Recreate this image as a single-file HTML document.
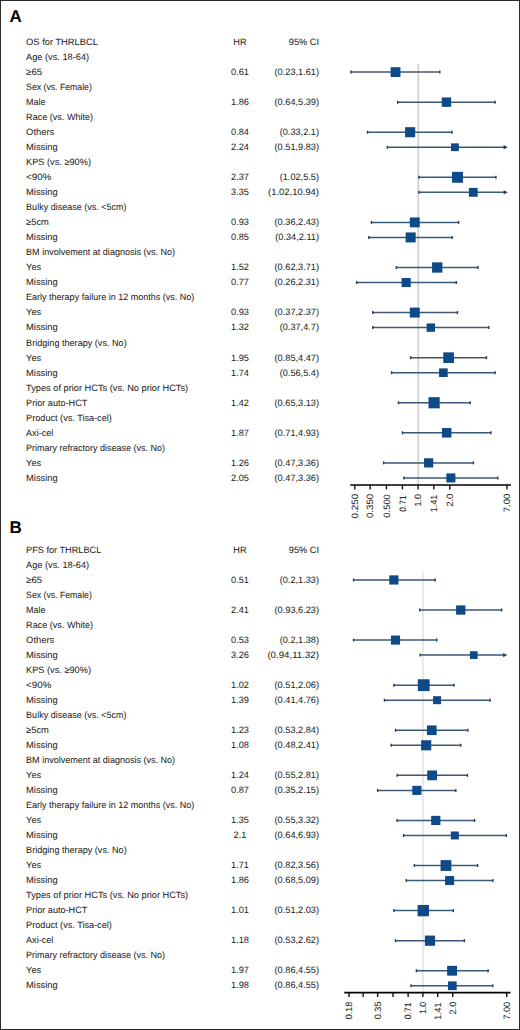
<!DOCTYPE html>
<html><head><meta charset="utf-8"><style>
html,body{margin:0;padding:0;background:#fff;}
body{width:520px;height:1030px;overflow:hidden;position:relative;}
svg{position:absolute;left:0;top:0;}
text{text-rendering:geometricPrecision;font-family:"Liberation Sans",sans-serif;font-size:9.2px;fill:#222;stroke:#222;stroke-width:0.04px;}
text.L{font-weight:bold;font-size:17px;fill:#000;}
</style></head><body>
<svg width="520" height="1030" viewBox="0 0 520 1030">
<rect x="0.5" y="0.5" width="519" height="1029" fill="#fff" stroke="#2a2a2a" stroke-width="1"/>
<text x="9.6" y="21.7" class="L">A</text>
<line x1="418.20" y1="64.0" x2="418.20" y2="485.0" stroke="#c4c4c4" stroke-width="1.3"/>
<text x="26.1" y="45.10" textLength="71.76" lengthAdjust="spacingAndGlyphs">OS for THRLBCL</text>
<text x="240" y="45.10" text-anchor="middle">HR</text>
<text x="319" y="45.10" text-anchor="end">95% CI</text>
<text x="26.1" y="60.12" textLength="62.99" lengthAdjust="spacingAndGlyphs">Age (vs. 18-64)</text>
<text x="26.1" y="75.14" textLength="16.06" lengthAdjust="spacingAndGlyphs">≥65</text>
<text x="240" y="75.14" text-anchor="middle">0.61</text>
<text x="319" y="75.14" text-anchor="end">(0.23,1.61)</text>
<line x1="350.99" y1="72.10" x2="439.85" y2="72.10" stroke="#3a5878" stroke-width="1.5"/>
<line x1="350.99" y1="70.60" x2="350.99" y2="73.60" stroke="#263c52" stroke-width="1.4"/>
<line x1="439.85" y1="70.60" x2="439.85" y2="73.60" stroke="#263c52" stroke-width="1.4"/>
<rect x="390.63" y="67.20" width="9.80" height="9.80" fill="#0d4a87"/>
<text x="26.1" y="90.16" textLength="65.76" lengthAdjust="spacingAndGlyphs">Sex (vs. Female)</text>
<text x="26.1" y="105.18" textLength="19.43" lengthAdjust="spacingAndGlyphs">Male</text>
<text x="240" y="105.18" text-anchor="middle">1.86</text>
<text x="319" y="105.18" text-anchor="end">(0.64,5.39)</text>
<line x1="397.72" y1="102.16" x2="495.02" y2="102.16" stroke="#3a5878" stroke-width="1.5"/>
<line x1="397.72" y1="100.66" x2="397.72" y2="103.66" stroke="#263c52" stroke-width="1.4"/>
<line x1="495.02" y1="100.66" x2="495.02" y2="103.66" stroke="#263c52" stroke-width="1.4"/>
<rect x="441.74" y="97.46" width="9.40" height="9.40" fill="#0d4a87"/>
<text x="26.1" y="120.20" textLength="66.97" lengthAdjust="spacingAndGlyphs">Race (vs. White)</text>
<text x="26.1" y="135.22" textLength="28.16" lengthAdjust="spacingAndGlyphs">Others</text>
<text x="240" y="135.22" text-anchor="middle">0.84</text>
<text x="319" y="135.22" text-anchor="end">(0.33,2.1)</text>
<line x1="367.48" y1="132.22" x2="451.98" y2="132.22" stroke="#3a5878" stroke-width="1.5"/>
<line x1="367.48" y1="130.72" x2="367.48" y2="133.72" stroke="#263c52" stroke-width="1.4"/>
<line x1="451.98" y1="130.72" x2="451.98" y2="133.72" stroke="#263c52" stroke-width="1.4"/>
<rect x="405.09" y="127.17" width="10.10" height="10.10" fill="#0d4a87"/>
<text x="26.1" y="150.24" textLength="31.59" lengthAdjust="spacingAndGlyphs">Missing</text>
<text x="240" y="150.24" text-anchor="middle">2.24</text>
<text x="319" y="150.24" text-anchor="end">(0.51,9.83)</text>
<line x1="387.35" y1="147.25" x2="504.30" y2="147.25" stroke="#3a5878" stroke-width="1.5"/>
<line x1="387.35" y1="145.75" x2="387.35" y2="148.75" stroke="#263c52" stroke-width="1.4"/>
<path d="M503.60,145.05 L507.80,147.25 L503.60,149.45 Z" fill="#263c52"/>
<rect x="451.02" y="143.35" width="7.80" height="7.80" fill="#0d4a87"/>
<text x="26.1" y="165.26" textLength="64.86" lengthAdjust="spacingAndGlyphs">KPS (vs. ≥90%)</text>
<text x="26.1" y="180.28" textLength="25.22" lengthAdjust="spacingAndGlyphs">&lt;90%</text>
<text x="240" y="180.28" text-anchor="middle">2.37</text>
<text x="319" y="180.28" text-anchor="end">(1.02,5.5)</text>
<line x1="419.00" y1="177.31" x2="495.94" y2="177.31" stroke="#3a5878" stroke-width="1.5"/>
<line x1="419.00" y1="175.81" x2="419.00" y2="178.81" stroke="#263c52" stroke-width="1.4"/>
<line x1="495.94" y1="175.81" x2="495.94" y2="178.81" stroke="#263c52" stroke-width="1.4"/>
<rect x="452.05" y="171.86" width="10.90" height="10.90" fill="#0d4a87"/>
<text x="26.1" y="195.30" textLength="31.59" lengthAdjust="spacingAndGlyphs">Missing</text>
<text x="240" y="195.30" text-anchor="middle">3.35</text>
<text x="319" y="195.30" text-anchor="end" textLength="50.9" lengthAdjust="spacingAndGlyphs">(1.02,10.94)</text>
<line x1="419.00" y1="192.34" x2="504.30" y2="192.34" stroke="#3a5878" stroke-width="1.5"/>
<line x1="419.00" y1="190.84" x2="419.00" y2="193.84" stroke="#263c52" stroke-width="1.4"/>
<path d="M503.60,190.14 L507.80,192.34 L503.60,194.54 Z" fill="#263c52"/>
<rect x="468.90" y="187.94" width="8.80" height="8.80" fill="#0d4a87"/>
<text x="26.1" y="210.32" textLength="100.51" lengthAdjust="spacingAndGlyphs">Bulky disease (vs. &lt;5cm)</text>
<text x="26.1" y="225.34" textLength="22.84" lengthAdjust="spacingAndGlyphs">≥5cm</text>
<text x="240" y="225.34" text-anchor="middle">0.93</text>
<text x="319" y="225.34" text-anchor="end">(0.36,2.43)</text>
<line x1="371.45" y1="222.40" x2="458.64" y2="222.40" stroke="#3a5878" stroke-width="1.5"/>
<line x1="371.45" y1="220.90" x2="371.45" y2="223.90" stroke="#263c52" stroke-width="1.4"/>
<line x1="458.64" y1="220.90" x2="458.64" y2="223.90" stroke="#263c52" stroke-width="1.4"/>
<rect x="409.84" y="217.45" width="9.90" height="9.90" fill="#0d4a87"/>
<text x="26.1" y="240.36" textLength="31.59" lengthAdjust="spacingAndGlyphs">Missing</text>
<text x="240" y="240.36" text-anchor="middle">0.85</text>
<text x="319" y="240.36" text-anchor="end">(0.34,2.11)</text>
<line x1="368.84" y1="237.43" x2="452.19" y2="237.43" stroke="#3a5878" stroke-width="1.5"/>
<line x1="368.84" y1="235.93" x2="368.84" y2="238.93" stroke="#263c52" stroke-width="1.4"/>
<line x1="452.19" y1="235.93" x2="452.19" y2="238.93" stroke="#263c52" stroke-width="1.4"/>
<rect x="405.68" y="232.43" width="10.00" height="10.00" fill="#0d4a87"/>
<text x="26.1" y="255.38" textLength="149.00" lengthAdjust="spacingAndGlyphs">BM involvement at diagnosis (vs. No)</text>
<text x="26.1" y="270.40" textLength="15.05" lengthAdjust="spacingAndGlyphs">Yes</text>
<text x="240" y="270.40" text-anchor="middle">1.52</text>
<text x="319" y="270.40" text-anchor="end">(0.62,3.71)</text>
<line x1="396.27" y1="267.49" x2="477.96" y2="267.49" stroke="#3a5878" stroke-width="1.5"/>
<line x1="396.27" y1="265.99" x2="396.27" y2="268.99" stroke="#263c52" stroke-width="1.4"/>
<line x1="477.96" y1="265.99" x2="477.96" y2="268.99" stroke="#263c52" stroke-width="1.4"/>
<rect x="432.07" y="262.34" width="10.30" height="10.30" fill="#0d4a87"/>
<text x="26.1" y="285.42" textLength="31.59" lengthAdjust="spacingAndGlyphs">Missing</text>
<text x="240" y="285.42" text-anchor="middle">0.77</text>
<text x="319" y="285.42" text-anchor="end">(0.26,2.31)</text>
<line x1="356.59" y1="282.52" x2="456.33" y2="282.52" stroke="#3a5878" stroke-width="1.5"/>
<line x1="356.59" y1="281.02" x2="356.59" y2="284.02" stroke="#263c52" stroke-width="1.4"/>
<line x1="456.33" y1="281.02" x2="456.33" y2="284.02" stroke="#263c52" stroke-width="1.4"/>
<rect x="401.62" y="277.97" width="9.10" height="9.10" fill="#0d4a87"/>
<text x="26.1" y="300.44" textLength="168.12" lengthAdjust="spacingAndGlyphs">Early therapy failure in 12 months (vs. No)</text>
<text x="26.1" y="315.46" textLength="15.05" lengthAdjust="spacingAndGlyphs">Yes</text>
<text x="240" y="315.46" text-anchor="middle">0.93</text>
<text x="319" y="315.46" text-anchor="end">(0.37,2.37)</text>
<line x1="372.70" y1="312.58" x2="457.50" y2="312.58" stroke="#3a5878" stroke-width="1.5"/>
<line x1="372.70" y1="311.08" x2="372.70" y2="314.08" stroke="#263c52" stroke-width="1.4"/>
<line x1="457.50" y1="311.08" x2="457.50" y2="314.08" stroke="#263c52" stroke-width="1.4"/>
<rect x="409.81" y="307.60" width="9.95" height="9.95" fill="#0d4a87"/>
<text x="26.1" y="330.48" textLength="31.59" lengthAdjust="spacingAndGlyphs">Missing</text>
<text x="240" y="330.48" text-anchor="middle">1.32</text>
<text x="319" y="330.48" text-anchor="end">(0.37,4.7)</text>
<line x1="372.70" y1="327.61" x2="488.76" y2="327.61" stroke="#3a5878" stroke-width="1.5"/>
<line x1="372.70" y1="326.11" x2="372.70" y2="329.11" stroke="#263c52" stroke-width="1.4"/>
<line x1="488.76" y1="326.11" x2="488.76" y2="329.11" stroke="#263c52" stroke-width="1.4"/>
<rect x="426.58" y="323.41" width="8.40" height="8.40" fill="#0d4a87"/>
<text x="26.1" y="345.50" textLength="100.57" lengthAdjust="spacingAndGlyphs">Bridging therapy (vs. No)</text>
<text x="26.1" y="360.52" textLength="15.05" lengthAdjust="spacingAndGlyphs">Yes</text>
<text x="240" y="360.52" text-anchor="middle">1.95</text>
<text x="319" y="360.52" text-anchor="end">(0.85,4.47)</text>
<line x1="410.68" y1="357.67" x2="486.47" y2="357.67" stroke="#3a5878" stroke-width="1.5"/>
<line x1="410.68" y1="356.17" x2="410.68" y2="359.17" stroke="#263c52" stroke-width="1.4"/>
<line x1="486.47" y1="356.17" x2="486.47" y2="359.17" stroke="#263c52" stroke-width="1.4"/>
<rect x="443.27" y="352.35" width="10.65" height="10.65" fill="#0d4a87"/>
<text x="26.1" y="375.54" textLength="31.59" lengthAdjust="spacingAndGlyphs">Missing</text>
<text x="240" y="375.54" text-anchor="middle">1.74</text>
<text x="319" y="375.54" text-anchor="end">(0.56,5.4)</text>
<line x1="391.62" y1="372.70" x2="495.10" y2="372.70" stroke="#3a5878" stroke-width="1.5"/>
<line x1="391.62" y1="371.20" x2="391.62" y2="374.20" stroke="#263c52" stroke-width="1.4"/>
<line x1="495.10" y1="371.20" x2="495.10" y2="374.20" stroke="#263c52" stroke-width="1.4"/>
<rect x="439.07" y="368.38" width="8.65" height="8.65" fill="#0d4a87"/>
<text x="26.1" y="390.56" textLength="162.08" lengthAdjust="spacingAndGlyphs">Types of prior HCTs (vs. No prior HCTs)</text>
<text x="26.1" y="405.58" textLength="61.22" lengthAdjust="spacingAndGlyphs">Prior auto-HCT</text>
<text x="240" y="405.58" text-anchor="middle">1.42</text>
<text x="319" y="405.58" text-anchor="end">(0.65,3.13)</text>
<line x1="398.43" y1="402.76" x2="470.20" y2="402.76" stroke="#3a5878" stroke-width="1.5"/>
<line x1="398.43" y1="401.26" x2="398.43" y2="404.26" stroke="#263c52" stroke-width="1.4"/>
<line x1="470.20" y1="401.26" x2="470.20" y2="404.26" stroke="#263c52" stroke-width="1.4"/>
<rect x="428.51" y="397.16" width="11.20" height="11.20" fill="#0d4a87"/>
<text x="26.1" y="420.60" textLength="85.73" lengthAdjust="spacingAndGlyphs">Product (vs. Tisa-cel)</text>
<text x="26.1" y="435.62" textLength="27.13" lengthAdjust="spacingAndGlyphs">Axi-cel</text>
<text x="240" y="435.62" text-anchor="middle">1.87</text>
<text x="319" y="435.62" text-anchor="end">(0.71,4.93)</text>
<line x1="402.46" y1="432.82" x2="490.95" y2="432.82" stroke="#3a5878" stroke-width="1.5"/>
<line x1="402.46" y1="431.32" x2="402.46" y2="434.32" stroke="#263c52" stroke-width="1.4"/>
<line x1="490.95" y1="431.32" x2="490.95" y2="434.32" stroke="#263c52" stroke-width="1.4"/>
<rect x="441.93" y="428.07" width="9.50" height="9.50" fill="#0d4a87"/>
<text x="26.1" y="450.64" textLength="139.00" lengthAdjust="spacingAndGlyphs">Primary refractory disease (vs. No)</text>
<text x="26.1" y="465.66" textLength="15.05" lengthAdjust="spacingAndGlyphs">Yes</text>
<text x="240" y="465.66" text-anchor="middle">1.26</text>
<text x="319" y="465.66" text-anchor="end">(0.47,3.36)</text>
<line x1="383.62" y1="462.88" x2="473.44" y2="462.88" stroke="#3a5878" stroke-width="1.5"/>
<line x1="383.62" y1="461.38" x2="383.62" y2="464.38" stroke="#263c52" stroke-width="1.4"/>
<line x1="473.44" y1="461.38" x2="473.44" y2="464.38" stroke="#263c52" stroke-width="1.4"/>
<rect x="424.05" y="458.28" width="9.20" height="9.20" fill="#0d4a87"/>
<text x="26.1" y="480.68" textLength="31.59" lengthAdjust="spacingAndGlyphs">Missing</text>
<text x="240" y="480.68" text-anchor="middle">2.05</text>
<text x="319" y="480.68" text-anchor="end">(0.47,3.36)</text>
<line x1="403.85" y1="477.91" x2="497.81" y2="477.91" stroke="#3a5878" stroke-width="1.5"/>
<line x1="403.85" y1="476.41" x2="403.85" y2="479.41" stroke="#263c52" stroke-width="1.4"/>
<line x1="497.81" y1="476.41" x2="497.81" y2="479.41" stroke="#263c52" stroke-width="1.4"/>
<rect x="446.35" y="473.39" width="9.05" height="9.05" fill="#0d4a87"/>
<line x1="350.2" y1="485.0" x2="511" y2="485.0" stroke="#000" stroke-width="1.7"/>
<line x1="354.80" y1="485.0" x2="354.80" y2="489.4" stroke="#111" stroke-width="1.4"/>
<line x1="370.16" y1="485.0" x2="370.16" y2="489.4" stroke="#111" stroke-width="1.4"/>
<line x1="386.45" y1="485.0" x2="386.45" y2="489.4" stroke="#111" stroke-width="1.4"/>
<line x1="402.46" y1="485.0" x2="402.46" y2="489.4" stroke="#111" stroke-width="1.4"/>
<line x1="418.10" y1="485.0" x2="418.10" y2="489.4" stroke="#111" stroke-width="1.4"/>
<line x1="433.79" y1="485.0" x2="433.79" y2="489.4" stroke="#111" stroke-width="1.4"/>
<line x1="449.75" y1="485.0" x2="449.75" y2="489.4" stroke="#111" stroke-width="1.4"/>
<line x1="506.95" y1="485.0" x2="506.95" y2="489.4" stroke="#111" stroke-width="1.4"/>
<text x="358.10" y="518.58" textLength="24.80" lengthAdjust="spacingAndGlyphs" transform="rotate(-90 358.10 518.58)">0.250</text>
<text x="373.46" y="518.08" textLength="24.25" lengthAdjust="spacingAndGlyphs" transform="rotate(-90 373.46 518.08)">0.350</text>
<text x="389.75" y="517.63" textLength="23.43" lengthAdjust="spacingAndGlyphs" transform="rotate(-90 389.75 517.63)">0.500</text>
<text x="405.76" y="511.83" textLength="16.48" lengthAdjust="spacingAndGlyphs" transform="rotate(-90 405.76 511.83)">0.71</text>
<text x="421.40" y="506.45" textLength="12.41" lengthAdjust="spacingAndGlyphs" transform="rotate(-90 421.40 506.45)">1.0</text>
<text x="437.09" y="512.36" textLength="17.75" lengthAdjust="spacingAndGlyphs" transform="rotate(-90 437.09 512.36)">1.41</text>
<text x="453.05" y="506.83" textLength="13.27" lengthAdjust="spacingAndGlyphs" transform="rotate(-90 453.05 506.83)">2.0</text>
<text x="510.25" y="512.30" textLength="18.65" lengthAdjust="spacingAndGlyphs" transform="rotate(-90 510.25 512.30)">7.00</text>
<text x="9.6" y="532.7" class="L">B</text>
<line x1="422.90" y1="571.5" x2="422.90" y2="992.6" stroke="#dadada" stroke-width="1.2"/>
<text x="26.1" y="552.80" textLength="75.16" lengthAdjust="spacingAndGlyphs">PFS for THRLBCL</text>
<text x="240" y="552.80" text-anchor="middle">HR</text>
<text x="319" y="552.80" text-anchor="end">95% CI</text>
<text x="26.1" y="567.82" textLength="62.99" lengthAdjust="spacingAndGlyphs">Age (vs. 18-64)</text>
<text x="26.1" y="582.84" textLength="16.06" lengthAdjust="spacingAndGlyphs">≥65</text>
<text x="240" y="582.84" text-anchor="middle">0.51</text>
<text x="319" y="582.84" text-anchor="end">(0.2,1.33)</text>
<line x1="353.54" y1="579.96" x2="435.16" y2="579.96" stroke="#3a5878" stroke-width="1.5"/>
<line x1="353.54" y1="578.46" x2="353.54" y2="581.46" stroke="#263c52" stroke-width="1.4"/>
<line x1="435.16" y1="578.46" x2="435.16" y2="581.46" stroke="#263c52" stroke-width="1.4"/>
<rect x="389.26" y="575.36" width="9.20" height="9.20" fill="#0d4a87"/>
<text x="26.1" y="597.86" textLength="65.76" lengthAdjust="spacingAndGlyphs">Sex (vs. Female)</text>
<text x="26.1" y="612.88" textLength="19.43" lengthAdjust="spacingAndGlyphs">Male</text>
<text x="240" y="612.88" text-anchor="middle">2.41</text>
<text x="319" y="612.88" text-anchor="end">(0.93,6.23)</text>
<line x1="419.74" y1="610.02" x2="501.68" y2="610.02" stroke="#3a5878" stroke-width="1.5"/>
<line x1="419.74" y1="608.52" x2="419.74" y2="611.52" stroke="#263c52" stroke-width="1.4"/>
<line x1="501.68" y1="608.52" x2="501.68" y2="611.52" stroke="#263c52" stroke-width="1.4"/>
<rect x="456.11" y="605.37" width="9.30" height="9.30" fill="#0d4a87"/>
<text x="26.1" y="627.90" textLength="66.97" lengthAdjust="spacingAndGlyphs">Race (vs. White)</text>
<text x="26.1" y="642.92" textLength="28.16" lengthAdjust="spacingAndGlyphs">Others</text>
<text x="240" y="642.92" text-anchor="middle">0.53</text>
<text x="319" y="642.92" text-anchor="end">(0.2,1.38)</text>
<line x1="353.54" y1="640.08" x2="436.74" y2="640.08" stroke="#3a5878" stroke-width="1.5"/>
<line x1="353.54" y1="638.58" x2="353.54" y2="641.58" stroke="#263c52" stroke-width="1.4"/>
<line x1="436.74" y1="638.58" x2="436.74" y2="641.58" stroke="#263c52" stroke-width="1.4"/>
<rect x="390.97" y="635.53" width="9.10" height="9.10" fill="#0d4a87"/>
<text x="26.1" y="657.94" textLength="31.59" lengthAdjust="spacingAndGlyphs">Missing</text>
<text x="240" y="657.94" text-anchor="middle">3.26</text>
<text x="319" y="657.94" text-anchor="end" textLength="51.6" lengthAdjust="spacingAndGlyphs">(0.94,11.32)</text>
<line x1="420.20" y1="655.11" x2="503.80" y2="655.11" stroke="#3a5878" stroke-width="1.5"/>
<line x1="420.20" y1="653.61" x2="420.20" y2="656.61" stroke="#263c52" stroke-width="1.4"/>
<path d="M503.10,652.91 L507.30,655.11 L503.10,657.31 Z" fill="#263c52"/>
<rect x="469.93" y="651.26" width="7.70" height="7.70" fill="#0d4a87"/>
<text x="26.1" y="672.96" textLength="64.86" lengthAdjust="spacingAndGlyphs">KPS (vs. ≥90%)</text>
<text x="26.1" y="687.98" textLength="25.22" lengthAdjust="spacingAndGlyphs">&lt;90%</text>
<text x="240" y="687.98" text-anchor="middle">1.02</text>
<text x="319" y="687.98" text-anchor="end">(0.51,2.06)</text>
<line x1="393.86" y1="685.17" x2="454.00" y2="685.17" stroke="#3a5878" stroke-width="1.5"/>
<line x1="393.86" y1="683.67" x2="393.86" y2="686.67" stroke="#263c52" stroke-width="1.4"/>
<line x1="454.00" y1="683.67" x2="454.00" y2="686.67" stroke="#263c52" stroke-width="1.4"/>
<rect x="417.82" y="679.27" width="11.80" height="11.80" fill="#0d4a87"/>
<text x="26.1" y="703.00" textLength="31.59" lengthAdjust="spacingAndGlyphs">Missing</text>
<text x="240" y="703.00" text-anchor="middle">1.39</text>
<text x="319" y="703.00" text-anchor="end">(0.41,4.76)</text>
<line x1="384.46" y1="700.20" x2="490.08" y2="700.20" stroke="#3a5878" stroke-width="1.5"/>
<line x1="384.46" y1="698.70" x2="384.46" y2="701.70" stroke="#263c52" stroke-width="1.4"/>
<line x1="490.08" y1="698.70" x2="490.08" y2="701.70" stroke="#263c52" stroke-width="1.4"/>
<rect x="433.06" y="696.20" width="8.00" height="8.00" fill="#0d4a87"/>
<text x="26.1" y="718.02" textLength="100.51" lengthAdjust="spacingAndGlyphs">Bulky disease (vs. &lt;5cm)</text>
<text x="26.1" y="733.04" textLength="22.84" lengthAdjust="spacingAndGlyphs">≥5cm</text>
<text x="240" y="733.04" text-anchor="middle">1.23</text>
<text x="319" y="733.04" text-anchor="end">(0.53,2.84)</text>
<line x1="395.52" y1="730.26" x2="467.84" y2="730.26" stroke="#3a5878" stroke-width="1.5"/>
<line x1="395.52" y1="728.76" x2="395.52" y2="731.76" stroke="#263c52" stroke-width="1.4"/>
<line x1="467.84" y1="728.76" x2="467.84" y2="731.76" stroke="#263c52" stroke-width="1.4"/>
<rect x="426.96" y="725.43" width="9.65" height="9.65" fill="#0d4a87"/>
<text x="26.1" y="748.06" textLength="31.59" lengthAdjust="spacingAndGlyphs">Missing</text>
<text x="240" y="748.06" text-anchor="middle">1.08</text>
<text x="319" y="748.06" text-anchor="end">(0.48,2.41)</text>
<line x1="391.25" y1="745.29" x2="460.76" y2="745.29" stroke="#3a5878" stroke-width="1.5"/>
<line x1="391.25" y1="743.79" x2="391.25" y2="746.79" stroke="#263c52" stroke-width="1.4"/>
<line x1="460.76" y1="743.79" x2="460.76" y2="746.79" stroke="#263c52" stroke-width="1.4"/>
<rect x="421.14" y="740.24" width="10.10" height="10.10" fill="#0d4a87"/>
<text x="26.1" y="763.08" textLength="149.00" lengthAdjust="spacingAndGlyphs">BM involvement at diagnosis (vs. No)</text>
<text x="26.1" y="778.10" textLength="15.05" lengthAdjust="spacingAndGlyphs">Yes</text>
<text x="240" y="778.10" text-anchor="middle">1.24</text>
<text x="319" y="778.10" text-anchor="end">(0.55,2.81)</text>
<line x1="397.12" y1="775.35" x2="467.38" y2="775.35" stroke="#3a5878" stroke-width="1.5"/>
<line x1="397.12" y1="773.85" x2="397.12" y2="776.85" stroke="#263c52" stroke-width="1.4"/>
<line x1="467.38" y1="773.85" x2="467.38" y2="776.85" stroke="#263c52" stroke-width="1.4"/>
<rect x="427.24" y="770.45" width="9.80" height="9.80" fill="#0d4a87"/>
<text x="26.1" y="793.12" textLength="31.59" lengthAdjust="spacingAndGlyphs">Missing</text>
<text x="240" y="793.12" text-anchor="middle">0.87</text>
<text x="319" y="793.12" text-anchor="end">(0.35,2.15)</text>
<line x1="377.64" y1="790.38" x2="455.85" y2="790.38" stroke="#3a5878" stroke-width="1.5"/>
<line x1="377.64" y1="788.88" x2="377.64" y2="791.88" stroke="#263c52" stroke-width="1.4"/>
<line x1="455.85" y1="788.88" x2="455.85" y2="791.88" stroke="#263c52" stroke-width="1.4"/>
<rect x="412.30" y="785.80" width="9.15" height="9.15" fill="#0d4a87"/>
<text x="26.1" y="808.14" textLength="168.12" lengthAdjust="spacingAndGlyphs">Early therapy failure in 12 months (vs. No)</text>
<text x="26.1" y="823.16" textLength="15.05" lengthAdjust="spacingAndGlyphs">Yes</text>
<text x="240" y="823.16" text-anchor="middle">1.35</text>
<text x="319" y="823.16" text-anchor="end">(0.55,3.32)</text>
<line x1="397.12" y1="820.44" x2="474.56" y2="820.44" stroke="#3a5878" stroke-width="1.5"/>
<line x1="397.12" y1="818.94" x2="397.12" y2="821.94" stroke="#263c52" stroke-width="1.4"/>
<line x1="474.56" y1="818.94" x2="474.56" y2="821.94" stroke="#263c52" stroke-width="1.4"/>
<rect x="431.20" y="815.84" width="9.20" height="9.20" fill="#0d4a87"/>
<text x="26.1" y="838.18" textLength="31.59" lengthAdjust="spacingAndGlyphs">Missing</text>
<text x="240" y="838.18" text-anchor="middle">2.1</text>
<text x="319" y="838.18" text-anchor="end">(0.64,6.93)</text>
<line x1="403.64" y1="835.47" x2="506.26" y2="835.47" stroke="#3a5878" stroke-width="1.5"/>
<line x1="403.64" y1="833.97" x2="403.64" y2="836.97" stroke="#263c52" stroke-width="1.4"/>
<line x1="506.26" y1="833.97" x2="506.26" y2="836.97" stroke="#263c52" stroke-width="1.4"/>
<rect x="450.86" y="831.50" width="7.95" height="7.95" fill="#0d4a87"/>
<text x="26.1" y="853.20" textLength="100.57" lengthAdjust="spacingAndGlyphs">Bridging therapy (vs. No)</text>
<text x="26.1" y="868.22" textLength="15.05" lengthAdjust="spacingAndGlyphs">Yes</text>
<text x="240" y="868.22" text-anchor="middle">1.71</text>
<text x="319" y="868.22" text-anchor="end">(0.82,3.56)</text>
<line x1="414.32" y1="865.53" x2="477.57" y2="865.53" stroke="#3a5878" stroke-width="1.5"/>
<line x1="414.32" y1="864.03" x2="414.32" y2="867.03" stroke="#263c52" stroke-width="1.4"/>
<line x1="477.57" y1="864.03" x2="477.57" y2="867.03" stroke="#263c52" stroke-width="1.4"/>
<rect x="440.58" y="860.13" width="10.80" height="10.80" fill="#0d4a87"/>
<text x="26.1" y="883.24" textLength="31.59" lengthAdjust="spacingAndGlyphs">Missing</text>
<text x="240" y="883.24" text-anchor="middle">1.86</text>
<text x="319" y="883.24" text-anchor="end">(0.68,5.09)</text>
<line x1="406.26" y1="880.56" x2="492.97" y2="880.56" stroke="#3a5878" stroke-width="1.5"/>
<line x1="406.26" y1="879.06" x2="406.26" y2="882.06" stroke="#263c52" stroke-width="1.4"/>
<line x1="492.97" y1="879.06" x2="492.97" y2="882.06" stroke="#263c52" stroke-width="1.4"/>
<rect x="445.10" y="876.06" width="9.00" height="9.00" fill="#0d4a87"/>
<text x="26.1" y="898.26" textLength="162.08" lengthAdjust="spacingAndGlyphs">Types of prior HCTs (vs. No prior HCTs)</text>
<text x="26.1" y="913.28" textLength="61.22" lengthAdjust="spacingAndGlyphs">Prior auto-HCT</text>
<text x="240" y="913.28" text-anchor="middle">1.01</text>
<text x="319" y="913.28" text-anchor="end">(0.51,2.03)</text>
<line x1="393.86" y1="910.62" x2="453.37" y2="910.62" stroke="#3a5878" stroke-width="1.5"/>
<line x1="393.86" y1="909.12" x2="393.86" y2="912.12" stroke="#263c52" stroke-width="1.4"/>
<line x1="453.37" y1="909.12" x2="453.37" y2="912.12" stroke="#263c52" stroke-width="1.4"/>
<rect x="417.62" y="904.94" width="11.35" height="11.35" fill="#0d4a87"/>
<text x="26.1" y="928.30" textLength="85.73" lengthAdjust="spacingAndGlyphs">Product (vs. Tisa-cel)</text>
<text x="26.1" y="943.32" textLength="27.13" lengthAdjust="spacingAndGlyphs">Axi-cel</text>
<text x="240" y="943.32" text-anchor="middle">1.18</text>
<text x="319" y="943.32" text-anchor="end">(0.53,2.62)</text>
<line x1="395.52" y1="940.68" x2="464.36" y2="940.68" stroke="#3a5878" stroke-width="1.5"/>
<line x1="395.52" y1="939.18" x2="395.52" y2="942.18" stroke="#263c52" stroke-width="1.4"/>
<line x1="464.36" y1="939.18" x2="464.36" y2="942.18" stroke="#263c52" stroke-width="1.4"/>
<rect x="424.90" y="935.58" width="10.20" height="10.20" fill="#0d4a87"/>
<text x="26.1" y="958.34" textLength="139.00" lengthAdjust="spacingAndGlyphs">Primary refractory disease (vs. No)</text>
<text x="26.1" y="973.36" textLength="15.05" lengthAdjust="spacingAndGlyphs">Yes</text>
<text x="240" y="973.36" text-anchor="middle">1.97</text>
<text x="319" y="973.36" text-anchor="end">(0.86,4.55)</text>
<line x1="416.37" y1="970.74" x2="488.14" y2="970.74" stroke="#3a5878" stroke-width="1.5"/>
<line x1="416.37" y1="969.24" x2="416.37" y2="972.24" stroke="#263c52" stroke-width="1.4"/>
<line x1="488.14" y1="969.24" x2="488.14" y2="972.24" stroke="#263c52" stroke-width="1.4"/>
<rect x="447.15" y="965.82" width="9.85" height="9.85" fill="#0d4a87"/>
<text x="26.1" y="988.38" textLength="31.59" lengthAdjust="spacingAndGlyphs">Missing</text>
<text x="240" y="988.38" text-anchor="middle">1.98</text>
<text x="319" y="988.38" text-anchor="end">(0.86,4.55)</text>
<line x1="410.99" y1="985.77" x2="492.80" y2="985.77" stroke="#3a5878" stroke-width="1.5"/>
<line x1="410.99" y1="984.27" x2="410.99" y2="987.27" stroke="#263c52" stroke-width="1.4"/>
<line x1="492.80" y1="984.27" x2="492.80" y2="987.27" stroke="#263c52" stroke-width="1.4"/>
<rect x="447.92" y="981.39" width="8.75" height="8.75" fill="#0d4a87"/>
<line x1="344.3" y1="992.6" x2="510.5" y2="992.6" stroke="#000" stroke-width="1.7"/>
<line x1="349.00" y1="992.6" x2="349.00" y2="997.0" stroke="#111" stroke-width="1.4"/>
<line x1="363.15" y1="992.6" x2="363.15" y2="997.0" stroke="#111" stroke-width="1.4"/>
<line x1="377.64" y1="992.6" x2="377.64" y2="997.0" stroke="#111" stroke-width="1.4"/>
<line x1="393.01" y1="992.6" x2="393.01" y2="997.0" stroke="#111" stroke-width="1.4"/>
<line x1="408.12" y1="992.6" x2="408.12" y2="997.0" stroke="#111" stroke-width="1.4"/>
<line x1="422.87" y1="992.6" x2="422.87" y2="997.0" stroke="#111" stroke-width="1.4"/>
<line x1="437.67" y1="992.6" x2="437.67" y2="997.0" stroke="#111" stroke-width="1.4"/>
<line x1="452.73" y1="992.6" x2="452.73" y2="997.0" stroke="#111" stroke-width="1.4"/>
<line x1="506.70" y1="992.6" x2="506.70" y2="997.0" stroke="#111" stroke-width="1.4"/>
<text x="352.30" y="1019.18" textLength="17.46" lengthAdjust="spacingAndGlyphs" transform="rotate(-90 352.30 1019.18)">0.18</text>
<text x="380.94" y="1019.25" textLength="17.79" lengthAdjust="spacingAndGlyphs" transform="rotate(-90 380.94 1019.25)">0.35</text>
<text x="411.42" y="1019.17" textLength="16.55" lengthAdjust="spacingAndGlyphs" transform="rotate(-90 411.42 1019.17)">0.71</text>
<text x="426.17" y="1014.08" textLength="12.14" lengthAdjust="spacingAndGlyphs" transform="rotate(-90 426.17 1014.08)">1.0</text>
<text x="440.97" y="1019.84" textLength="17.40" lengthAdjust="spacingAndGlyphs" transform="rotate(-90 440.97 1019.84)">1.41</text>
<text x="456.03" y="1014.40" textLength="12.78" lengthAdjust="spacingAndGlyphs" transform="rotate(-90 456.03 1014.40)">2.0</text>
<text x="510.00" y="1019.83" textLength="18.10" lengthAdjust="spacingAndGlyphs" transform="rotate(-90 510.00 1019.83)">7.00</text>
</svg>
</body></html>
